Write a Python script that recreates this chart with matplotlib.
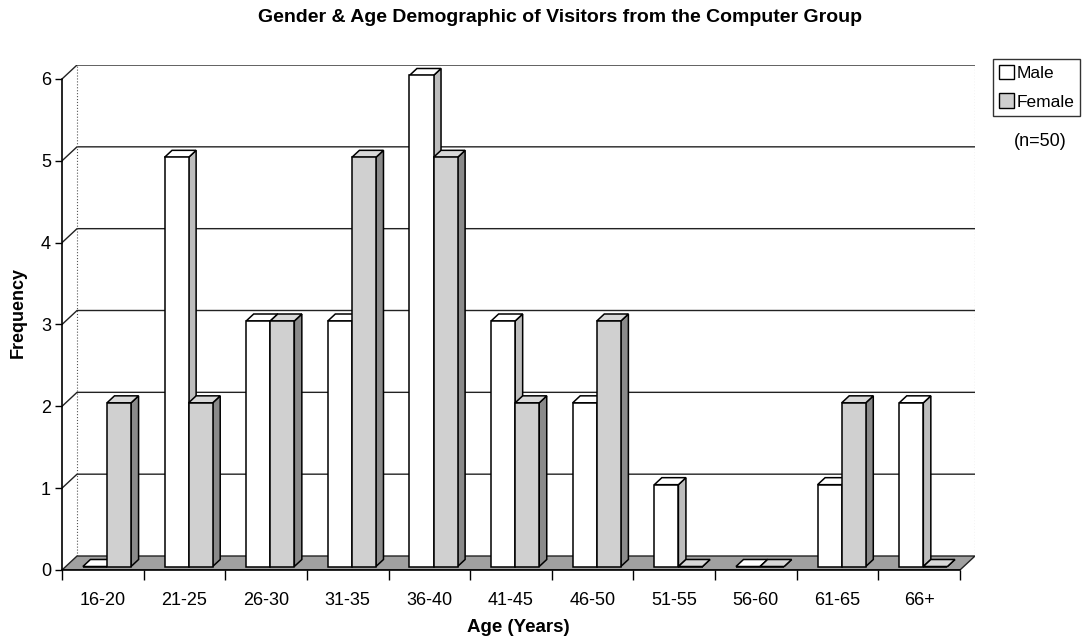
import numpy as np
import matplotlib
matplotlib.use("Agg")
import matplotlib.pyplot as plt
from matplotlib.patches import Polygon, Patch

plt.rcParams['font.family'] = ['Liberation Sans', 'DejaVu Sans']

age_groups = ["16-20", "21-25", "26-30", "31-35", "36-40", "41-45",
              "46-50", "51-55", "56-60", "61-65", "66+"]
male = [0, 5, 3, 3, 6, 3, 2, 1, 0, 1, 2]
female = [2, 2, 3, 5, 5, 2, 3, 0, 0, 2, 0]

W, H = 1088, 637
fig = plt.figure(figsize=(W / 100, H / 100), dpi=100)
fig.patch.set_facecolor('white')

# axes box in pixels: front-left corner of the floor to back-top of the wall
x0, x1, y0, y1 = 62, 975, 570, 65
ax = fig.add_axes([x0 / W, 1 - y0 / H, (x1 - x0) / W, (y0 - y1) / H])

n = len(age_groups)
ddx, ddy = 0.184, 0.171  # depth of the box in data units
ax.set_xlim(0, n + ddx)
ax.set_ylim(0, 6 + ddy)
ax.set_facecolor('none')

# floor
floor = Polygon([(0, 0), (n, 0), (n + ddx, ddy), (ddx, ddy)], closed=True,
                facecolor='#a0a0a0', edgecolor='#222222', lw=1.0, zorder=1)
ax.add_patch(floor)

# walls: gridlines on the left and back walls
for v in range(1, 7):
    ax.plot([0, ddx, n + ddx], [v, v + ddy, v + ddy], color='#222222', lw=1.0,
            zorder=0.5)
ax.plot([ddx, ddx], [ddy, 6 + ddy], color='#555555', lw=0.8, ls=':', zorder=0.5)
ax.plot([n + ddx, n + ddx], [ddy, 6 + ddy], color='#555555', lw=0.8, ls=':',
        zorder=0.5)

# 3D-style columns
bw = 0.295
fx, fy = 0.25 * ddx, 0.25 * ddy   # front face offset into the box
bx, by = 0.5 * ddx, 0.5 * ddy     # column depth
idx = np.arange(n)
series = [(male, 0.21, 'white', '#bdbdbd', 'white'),
          (female, 0.505, '#d0d0d0', '#8a8a8a', '#d8d8d8')]

z = 2
for i in idx:
    for vals, off, face, side, top in series:
        v = vals[i]
        left = i + off + fx
        bars = ax.bar(left, v, width=bw, bottom=fy, align='edge',
                      facecolor=face, edgecolor='black', lw=1.1, zorder=z + 1)
        r = bars[0]
        l, b = r.get_x(), r.get_y()
        w, h = r.get_width(), r.get_height()
        ax.add_patch(Polygon([(l + w, b), (l + w + bx, b + by),
                              (l + w + bx, b + h + by), (l + w, b + h)],
                             closed=True, facecolor=side, edgecolor='black',
                             lw=1.1, zorder=z))
        ax.add_patch(Polygon([(l, b + h), (l + w, b + h),
                              (l + w + bx, b + h + by), (l + bx, b + h + by)],
                             closed=True, facecolor=top, edgecolor='black',
                             lw=1.1, zorder=z))
        z += 2

# axes lines and ticks
for s in ['top', 'right']:
    ax.spines[s].set_visible(False)
ax.spines['left'].set_bounds(0, 6)
ax.spines['bottom'].set_bounds(0, n)
ax.spines['left'].set_linewidth(1.2)
ax.spines['bottom'].set_linewidth(1.2)
ax.spines['left'].set_zorder(100)
ax.spines['bottom'].set_zorder(100)

ax.set_yticks(range(0, 7))
ax.set_yticklabels([str(v) for v in range(0, 7)], fontsize=13)
ax.tick_params(axis='y', direction='out', length=5, width=1.0, pad=3)

ax.set_xticks(range(0, n + 1))
ax.set_xticklabels([''] * (n + 1))
ax.tick_params(axis='x', which='major', direction='out', length=7, width=1.0)
ax.set_xticks(idx + 0.5, minor=True)
ax.set_xticklabels(age_groups, minor=True, fontsize=13)
ax.tick_params(axis='x', which='minor', length=0, pad=16)

ax.set_xlabel('Age (Years)', fontsize=13.5, fontweight='bold', labelpad=7)
fig.text(18 / W, 1 - 312 / H, 'Frequency', rotation=90, ha='center',
         va='center', fontsize=13, fontweight='bold')

fig.text(0.515, 1 - 18 / H, 'Gender & Age Demographic of Visitors from the Computer Group',
         ha='center', va='center', fontsize=14, fontweight='bold')

handles = [Patch(facecolor='white', edgecolor='black', lw=1.0),
           Patch(facecolor='#cfcfcf', edgecolor='black', lw=1.0)]
leg = fig.legend(handles, ['Male', 'Female'], loc='upper left',
                 bbox_to_anchor=(993 / W, 1 - 59 / H), fontsize=12.5,
                 frameon=True, fancybox=False, edgecolor='black',
                 handlelength=0.85, handleheight=0.9, handletextpad=0.15,
                 borderpad=0.35, labelspacing=0.7, borderaxespad=0)
leg.get_frame().set_linewidth(1.0)
fig.text(1040 / W, 1 - 141 / H, '(n=50)', ha='center', va='center', fontsize=13)

fig.savefig('out.png', dpi=100)
